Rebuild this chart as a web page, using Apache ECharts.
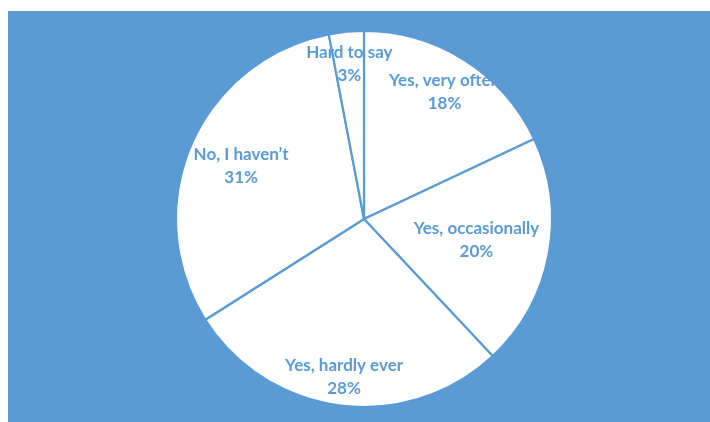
<!DOCTYPE html>
<html>
<head>
<meta charset="utf-8">
<script src="https://cdn.jsdelivr.net/npm/echarts@6/dist/echarts.min.js"></script>
<style>
  html, body { margin: 0; padding: 0; background: #fff; }
  #chart { position: absolute; left: 8px; top: 11px; width: 702px; height: 411px; }
</style>
</head>
<body>
<div id="chart"></div>
<script>
  // answers, clockwise from 12 o'clock
  var categories = ['Yes, very often', 'Yes, occasionally', 'Yes, hardly ever', 'No, I haven\u2019t', 'Hard to say'];
  var shares = [18, 20, 28, 31, 3];

  // how far out each label sits, relative to the default "inside" spot (half radius)
  var labelReach = [1.55, 1.18, 1.64, 1.38, 1.6];

  var blue = '#5b9bd5';
  var cx = 356, cy = 208;

  var myChart = echarts.init(document.getElementById('chart'));

  var option = {
    backgroundColor: blue,
    animation: false,
    series: [{
      type: 'pie',
      center: [cx, cy],
      radius: 188,
      startAngle: 90,
      clockwise: true,
      avoidLabelOverlap: false,
      itemStyle: {
        color: '#ffffff',
        borderColor: blue,
        borderWidth: 2.2
      },
      label: {
        show: true,
        position: 'inside',
        formatter: '{b}\n{c}%',
        color: blue,
        fontFamily: 'Lato',
        fontWeight: 'bold',
        fontSize: 17,
        lineHeight: 23,
        align: 'center'
      },
      labelLine: { show: false },
      emphasis: { disabled: true },
      labelLayout: function (params) {
        var r = params.labelRect;
        var mx = r.x + r.width / 2, my = r.y + r.height / 2;
        var k = labelReach[params.dataIndex] - 1;
        return { dx: k * (mx - cx), dy: k * (my - cy) };
      },
      data: categories.map(function (name, i) {
        return { name: name, value: shares[i] };
      })
    }]
  };

  myChart.setOption(option);
</script>
</body>
</html>
